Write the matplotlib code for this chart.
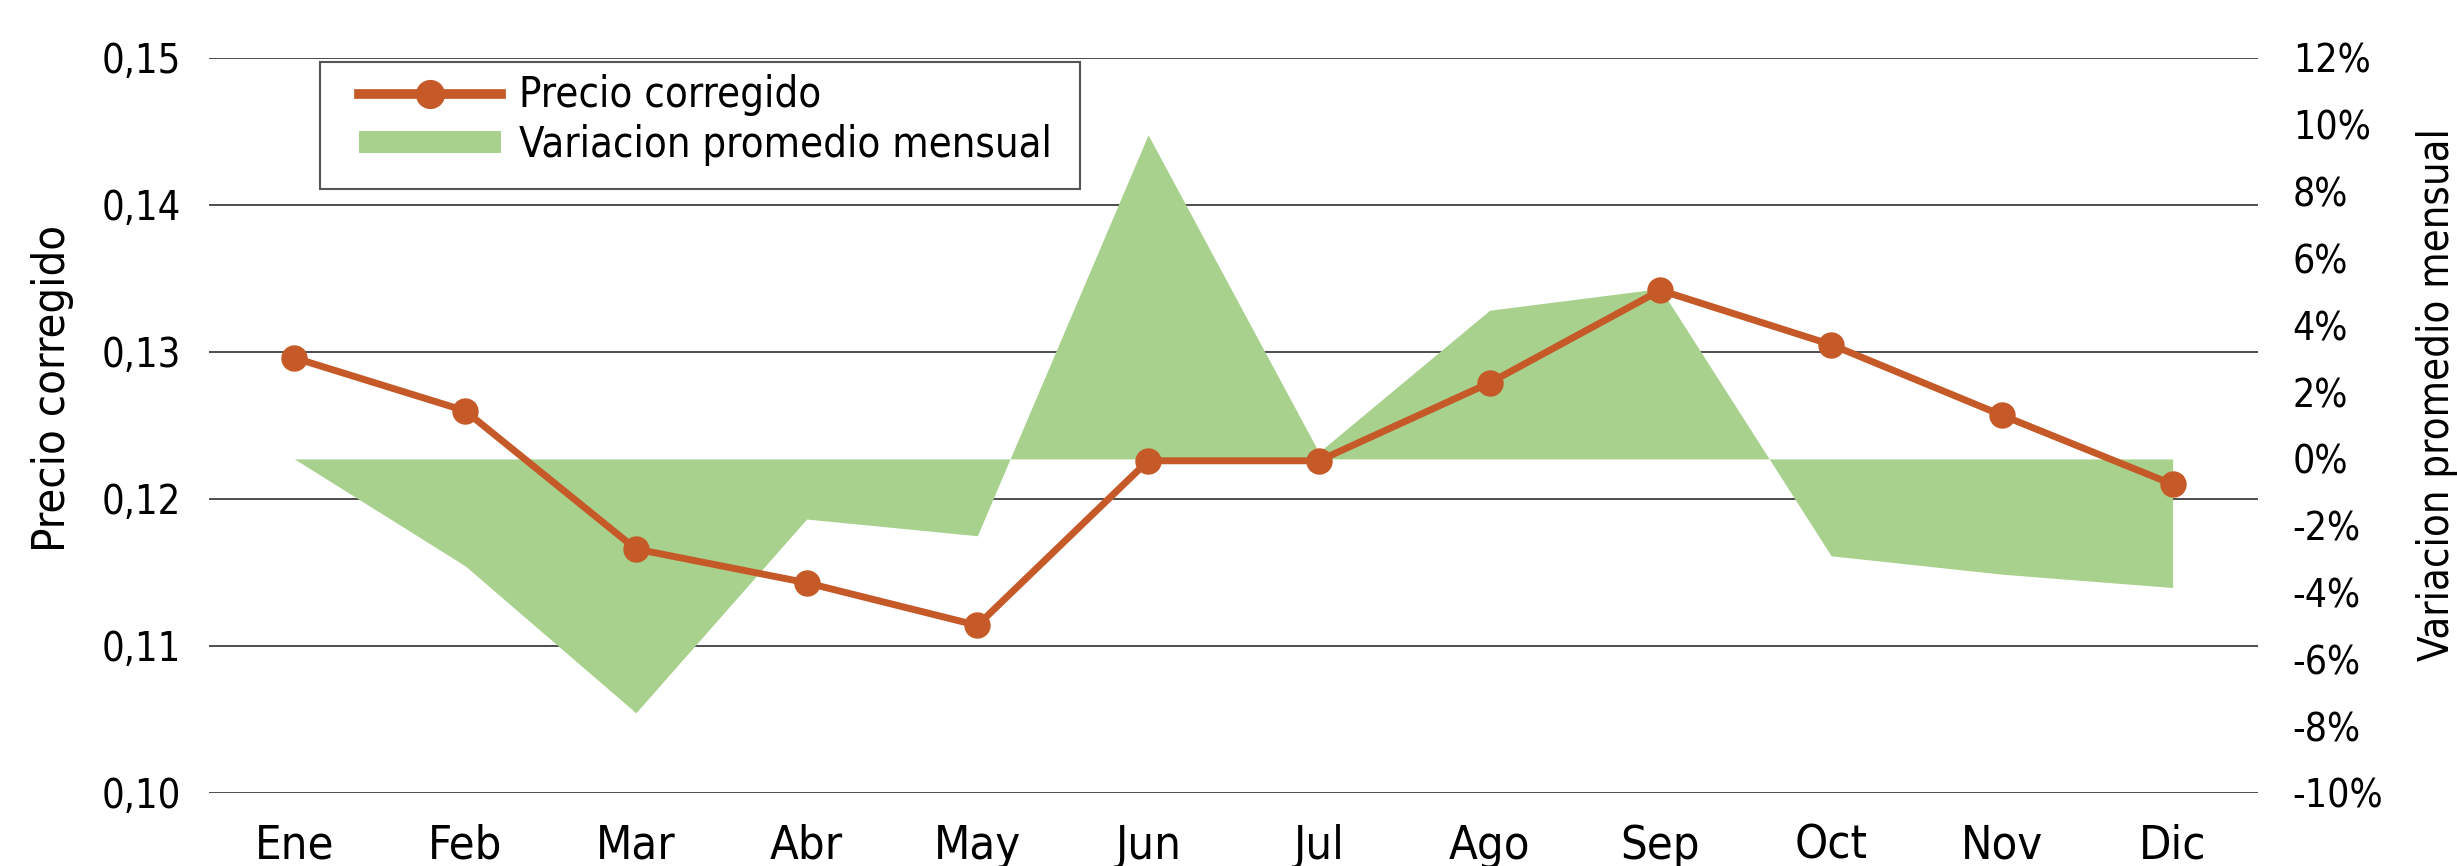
#!/usr/bin/env python3
"""
Precio corregido vs variacion promedio mensual
"""

import matplotlib
matplotlib.use('Agg')
import matplotlib.pyplot as plt
import matplotlib.font_manager as fm
from matplotlib.font_manager import FontProperties
from matplotlib.textpath import TextPath
from matplotlib.patches import Patch, Rectangle
from matplotlib.lines import Line2D

# datos
meses = ['Ene', 'Feb', 'Mar', 'Abr', 'May', 'Jun',
         'Jul', 'Ago', 'Sep', 'Oct', 'Nov', 'Dic']
precio = [0.1296, 0.1260, 0.1166, 0.1143, 0.1114, 0.1226,
          0.1226, 0.1279, 0.1342, 0.1305, 0.1257, 0.1210]
variacion = [0.0, -3.2, -7.6, -1.8, -2.3, 9.7,
             0.2, 4.45, 5.1, -2.9, -3.45, -3.85]   # en %
ticks_precio = [0.10, 0.11, 0.12, 0.13, 0.14, 0.15]
ticks_var = list(range(-10, 13, 2))

NARANJA = '#C55A28'
VERDE = '#A9D18E'
DPI = 100

# fuente estrecha: la primera disponible
instaladas = {(f.name, f.stretch) for f in fm.fontManager.ttflist}
nombres = {n for n, _ in instaladas}
if 'Liberation Sans Narrow' in nombres:
    FP = FontProperties(family='Liberation Sans Narrow')
elif ('DejaVu Sans', 'condensed') in instaladas:
    FP = FontProperties(family='DejaVu Sans', stretch='condensed')
else:
    FP = FontProperties(family='Lato')


def fuente(texto, ancho_px):
    """FontProperties con el tamano que da ese ancho en pixeles"""
    w = TextPath((0, 0), texto, size=100, prop=FP).get_extents().width
    fp = FP.copy()
    fp.set_size(72 * ancho_px * 100 / DPI / w)
    return fp


fig = plt.figure(figsize=(24.57, 8.66), dpi=DPI)
ax = fig.add_axes([0.08506, 0.0843, 0.83394, 0.84873])
x = list(range(len(meses)))

# eje principal: precio (rejilla y ticks)
ax.set_xlim(-0.5, len(meses) - 0.5)
ax.set_ylim(0.10, 0.15)
ax.set_yticks(ticks_precio)
ax.set_yticklabels([f'{v:.2f}'.replace('.', ',') for v in ticks_precio],
                   fontproperties=fuente('0,15', 74))
for v in ticks_precio:
    ax.axhline(v, color='#4d4d4d', lw=1.4, zorder=0)
ax.set_xticks(x)
ax.set_xticklabels(meses, fontproperties=fuente('Ene', 73))
ax.tick_params(axis='both', length=0)
ax.tick_params(axis='y', pad=20)
ax.tick_params(axis='x', pad=22)
for s in ax.spines.values():
    s.set_visible(False)

# eje secundario: variacion mensual (area)
ax2 = ax.twinx()
ax2.set_ylim(-10, 12)
ax2.set_yticks(ticks_var)
ax2.set_yticklabels([f'{v}%' for v in ticks_var],
                    fontproperties=fuente('12%', 72))
ax2.tick_params(axis='y', length=0, pad=25)
ax2.fill_between(x, 0, variacion, color=VERDE, lw=0)
for s in ax2.spines.values():
    s.set_visible(False)

# tercer eje para que la linea quede encima del area
ax3 = ax.twinx()
ax3.set_ylim(ax.get_ylim())
ax3.set_yticks([])
for s in ax3.spines.values():
    s.set_visible(False)
ax3.plot(x, precio, color=NARANJA, lw=5, marker='o', markersize=18)

# etiquetas de ejes
fig.text(0.0212, 0.552, 'Precio corregido', rotation=90, ha='center',
         va='center', fontproperties=fuente('Precio corregido', 321))
fig.text(0.992, 0.544, 'Variacion promedio mensual', rotation=90,
         ha='center', va='center',
         fontproperties=fuente('Variacion promedio mensual', 530))

# leyenda: marco dibujado aparte, contenido sin marco
ax3.add_patch(Rectangle((0.0542, 0.8218), 0.3709, 0.1732,
                        transform=ax3.transAxes, facecolor='white',
                        edgecolor='#555555', lw=1.5, zorder=4))
fp_ley = fuente('Variacion promedio mensual', 530)
em = fp_ley.get_size() * DPI / 72
handles = [Line2D([], [], color=NARANJA, lw=7, marker='o', markersize=20),
           Patch(color=VERDE, lw=0)]
leg = ax3.legend(handles, ['Precio corregido', 'Variacion promedio mensual'],
                 loc='center left', bbox_to_anchor=(0.0732, 0.9156),
                 borderaxespad=0, borderpad=0, frameon=False,
                 handlelength=142 / em, handleheight=19 / em,
                 handletextpad=18 / em, labelspacing=8 / em, prop=fp_ley)
leg.set_zorder(5)

plt.savefig('out.png', dpi=DPI)
plt.close()
